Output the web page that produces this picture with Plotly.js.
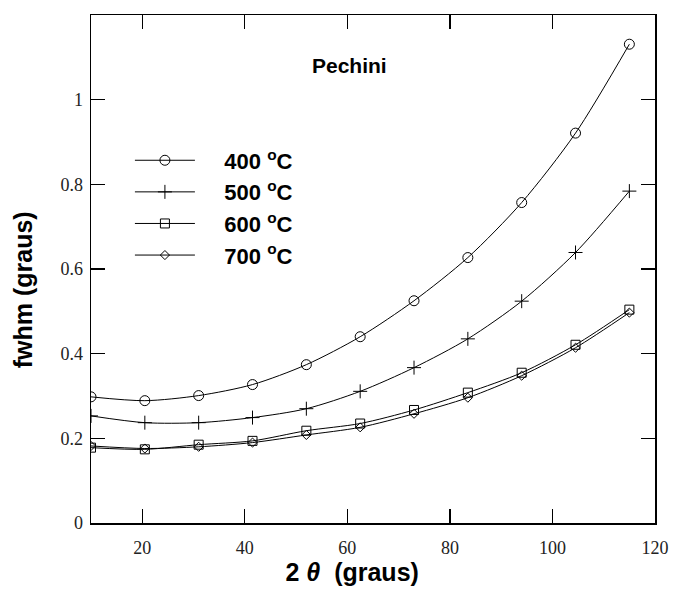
<!DOCTYPE html>
<html>
<head>
<meta charset="utf-8">
<script src="https://cdn.plot.ly/plotly-3.0.1.min.js"></script>
<style>html,body{margin:0;padding:0;background:#fff;}#chart{width:674px;height:590px;}</style>
</head>
<body>
<div id="chart"></div>
<script>
// 2theta positions (graus)
const twoTheta = [10, 20.5, 31, 41.5, 52, 62.5, 73, 83.5, 94, 104.5, 115];
// fwhm (graus) per calcination temperature
const fwhm400 = [0.298, 0.289, 0.301, 0.327, 0.374, 0.44, 0.525, 0.627, 0.757, 0.921, 1.131];
const fwhm500 = [0.253, 0.237, 0.237, 0.249, 0.27, 0.311, 0.367, 0.435, 0.524, 0.639, 0.784];
const fwhm600 = [0.178, 0.174, 0.185, 0.194, 0.218, 0.235, 0.267, 0.308, 0.355, 0.421, 0.504];
const fwhm700 = [0.182, 0.176, 0.180, 0.190, 0.208, 0.226, 0.258, 0.296, 0.348, 0.414, 0.497];
const seriesNames = ['400 <sup>o</sup>C', '500 <sup>o</sup>C', '600 <sup>o</sup>C', '700 <sup>o</sup>C'];
const xTicks = [20, 40, 60, 80, 100, 120];
const yTicks = [0, 0.2, 0.4, 0.6, 0.8, 1];
const yTickText = ['0', '0.2', '0.4', '0.6', '0.8', '1'];

const pad = '\u00a0\u00a0\u00a0\u00a0';
const tail = '\u00a0\u00a0\u00a0\u00a0\u00a0\u00a0';
const line = {color: '#000', width: 1, shape: 'spline', smoothing: 0.8};
function tr(y, name, sym, size, grp) {
  return {x: twoTheta, y: y, name: pad + name, type: 'scatter', mode: 'lines+markers',
    legendgroup: grp, line: line,
    marker: {symbol: sym, size: size, color: '#000', line: {color: '#000', width: 1}}};
}
const data = [
  tr(fwhm400, seriesNames[0], 'circle-open', 10, 'a'),
  tr(fwhm500, seriesNames[1], 'cross-thin-open', 10, 'b'),
  tr(fwhm600, seriesNames[2], 'square-open', 9, 'c'),
  tr(fwhm700, seriesNames[3], 'diamond-open', 7, 'd')
];

const axisCommon = {
  showline: true, linecolor: '#000', linewidth: 1.5, mirror: 'ticks',
  ticks: 'inside', ticklen: 14, tickwidth: 1.2, tickcolor: '#000',
  showgrid: false, zeroline: false,
  tickfont: {family: 'Liberation Serif, serif', size: 18, color: '#222'}
};
const titleFont = {family: 'Arial, Liberation Sans, sans-serif', size: 25, color: '#000'};
const layout = {
  width: 674, height: 590,
  margin: {l: 91, r: 19, t: 15, b: 67},
  paper_bgcolor: '#fff', plot_bgcolor: '#fff',
  showlegend: true,
  legend: {x: 0.069, y: 0.755, xanchor: 'left', yanchor: 'top', bgcolor: 'rgba(0,0,0,0)',
    tracegroupgap: 0, itemwidth: 60,
    font: {family: 'Arial, Liberation Sans, sans-serif', size: 22, color: '#000', weight: 'bold'}},
  xaxis: Object.assign({}, axisCommon, {range: [10, 120], tickvals: xTicks, ticklabelstandoff: 8,
    title: {text: '<b>2 <i>θ</i>  (graus)' + tail + '</b>', font: titleFont, standoff: 3}}),
  yaxis: Object.assign({}, axisCommon, {range: [0, 1.2], tickvals: yTicks, ticktext: yTickText, ticklabelstandoff: 3,
    title: {text: '<b>fwhm (graus)' + tail + '</b>', font: titleFont, standoff: 20}}),
  annotations: [{text: '<b>Pechini</b>', xref: 'paper', yref: 'paper', x: 0.459, y: 0.9,
    xanchor: 'center', yanchor: 'middle', showarrow: false,
    font: {family: 'Arial, Liberation Sans, sans-serif', size: 21, color: '#000'}}]
};
Plotly.newPlot('chart', data, layout, {staticPlot: true, displayModeBar: false});
</script>
</body>
</html>
